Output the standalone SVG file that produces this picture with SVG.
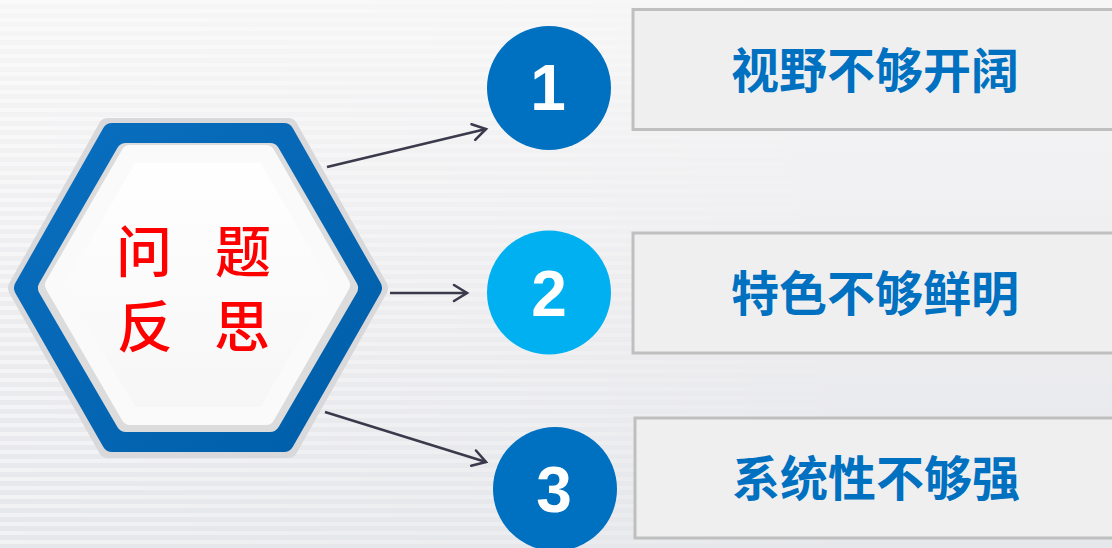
<svg xmlns="http://www.w3.org/2000/svg" width="1112" height="548" viewBox="0 0 1112 548">
<defs>
<linearGradient id="bg" x1="0" y1="0" x2="0" y2="1">
<stop offset="0" stop-color="#f6f6f7"/>
<stop offset="0.5" stop-color="#eeeef0"/>
<stop offset="1" stop-color="#e6e7eb"/>
</linearGradient>
<pattern id="stripes" width="8" height="9" patternUnits="userSpaceOnUse">
<rect width="8" height="4" fill="#ffffff" opacity="0.45"/>
</pattern>
<linearGradient id="fade" x1="0" y1="0" x2="1" y2="0">
<stop offset="0" stop-color="#fff" stop-opacity="1"/>
<stop offset="0.5" stop-color="#fff" stop-opacity="0.5"/>
<stop offset="0.8" stop-color="#fff" stop-opacity="0"/>
</linearGradient>
<mask id="fm"><rect width="1112" height="548" fill="url(#fade)"/></mask>
<linearGradient id="ring" x1="0" y1="0" x2="1" y2="1">
<stop offset="0" stop-color="#0a6fc0"/>
<stop offset="1" stop-color="#005ea8"/>
</linearGradient>
<linearGradient id="face" x1="0" y1="0" x2="0" y2="1">
<stop offset="0" stop-color="#ffffff"/>
<stop offset="1" stop-color="#f6f6f6"/>
</linearGradient>
<marker id="arr" markerUnits="userSpaceOnUse" markerWidth="30" markerHeight="30" viewBox="-20 -15 30 30" refX="0" refY="0" orient="auto">
<path d="M-13,-8 L0,0 L-13,8" fill="none" stroke="#3a3a4c" stroke-width="2.6" stroke-linecap="round" stroke-linejoin="miter"/>
</marker>
</defs>
<style>
.conn{stroke:#3a3a4c;stroke-width:2.6;fill:none;marker-end:url(#arr)}
.box{fill:#efefef;stroke:#bfbfbf;stroke-width:3}
.lbl{font-family:"Noto Sans CJK SC","Noto Sans",sans-serif;font-weight:700;font-size:48px;fill:#0070c0;text-anchor:middle}
.num{font-family:"Liberation Sans",Arial,sans-serif;font-weight:700;font-size:64px;fill:#ffffff;text-anchor:middle}
.red{font-family:"Noto Sans CJK SC","Noto Sans",sans-serif;font-weight:500;font-size:56px;fill:#ff0000;text-anchor:middle}
</style>
<rect width="1112" height="548" fill="url(#bg)"/>
<rect width="1112" height="548" fill="url(#stripes)" mask="url(#fm)"/>

<g id="hexagon">
<polygon points="108,128 288,128 378,288 288,448 108,448 18,288" fill="#d9d9db" stroke="#d9d9db" stroke-width="20" stroke-linejoin="round"/>
<polygon points="112,133 284,133 372,288 284,442 112,442 24,288" fill="url(#ring)" stroke="url(#ring)" stroke-width="20" stroke-linejoin="round"/>
<polygon points="126,153 270,153 348,288 270,422 126,422 48,288" fill="#dcdcdc" stroke="#dcdcdc" stroke-width="20" stroke-linejoin="round"/>
<polygon points="130,154 266,154 341,285 266,416 130,416 54,285" fill="url(#face)" stroke="#fafafa" stroke-width="18" stroke-linejoin="round"/>
<text class="red" x="144" y="272">问</text>
<text class="red" x="243" y="272">题</text>
<text class="red" x="145" y="347">反</text>
<text class="red" x="242" y="347">思</text>
</g>

<g id="connectors">
<line class="conn" x1="327" y1="167" x2="486" y2="129"/>
<line class="conn" x1="390" y1="293" x2="467" y2="293"/>
<line class="conn" x1="325" y1="412" x2="486" y2="462"/>
</g>

<g id="item1">
<rect class="box" x="633" y="9.5" width="490" height="120"/>
<circle cx="549" cy="88" r="62" fill="#0070c0"/>
<text class="num" x="548" y="110">1</text>
<text class="lbl" x="875" y="88">视野不够开阔</text>
</g>

<g id="item2">
<rect class="box" x="633" y="233" width="490" height="120"/>
<circle cx="549" cy="292.5" r="62" fill="#00b0f0"/>
<text class="num" x="549" y="316">2</text>
<text class="lbl" x="875" y="311">特色不够鲜明</text>
</g>

<g id="item3">
<rect class="box" x="635" y="418" width="490" height="120"/>
<circle cx="555" cy="489" r="62" fill="#0070c0"/>
<text class="num" x="554" y="512">3</text>
<text class="lbl" x="876" y="496">系统性不够强</text>
</g>
</svg>
